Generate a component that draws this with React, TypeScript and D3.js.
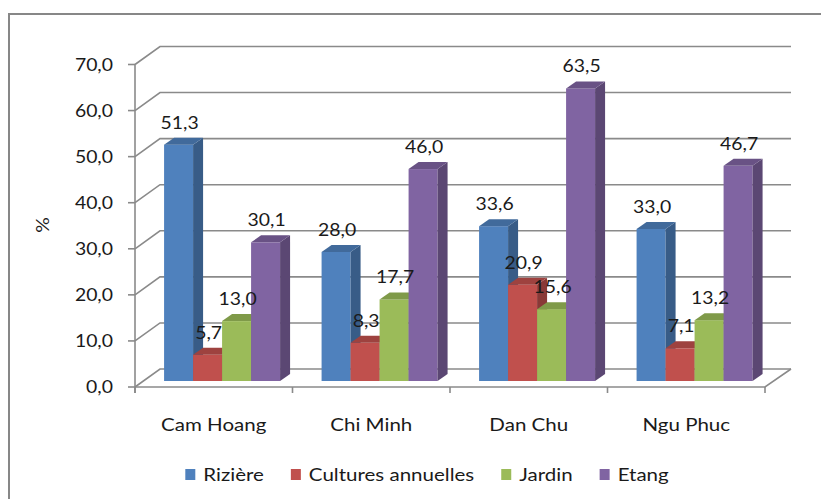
import React, { useEffect, useRef } from "react";
import * as d3 from "d3";

const categories = ["Cam Hoang", "Chi Minh", "Dan Chu", "Ngu Phuc"];
const seriesNames = ["Rizière", "Cultures annuelles", "Jardin", "Etang"];
const riziere = [51.3, 28.0, 33.6, 33.0];
const cultures = [5.7, 8.3, 20.9, 7.1];
const jardin = [13.0, 17.7, 15.6, 13.2];
const etang = [30.1, 46.0, 63.5, 46.7];
const yTicks = [0, 10, 20, 30, 40, 50, 60, 70];
const seriesColors = ["#4F81BD", "#C0504D", "#9BBB59", "#8064A2"];

const W = 821;
const H = 499;
const FONT = "Lato, 'Open Sans', sans-serif";
const SX = 1.14; // horizontal stretch of all text

export default function App() {
  const ref = useRef<SVGSVGElement | null>(null);

  useEffect(() => {
    const svg = d3.select(ref.current);
    svg.selectAll("*").remove();

    const series = [riziere, cultures, jardin, etang];

    // plot geometry
    const x0 = 135;
    const x1 = 765;
    const floorY = 387;
    const depthX = 25;
    const depthY = -18;
    const barDepthPos = 1 / 3; // where the bar fronts sit inside the floor depth
    const barW = 29;
    const barDX = 10;
    const barDY = -7;
    const gridColor = "#8a8a8a";

    const y = d3.scaleLinear().domain([0, 70]).range([floorY, 64.5]);
    const xBand = d3.scaleBand<string>().domain(categories).range([x0, x1]);
    const inner = d3
      .scaleBand<string>()
      .domain(seriesNames)
      .range([0, barW * seriesNames.length]);

    const fmt = (v: number) => d3.format(".1f")(v).replace(".", ",");

    const txt = (
      g: d3.Selection<any, any, any, any>,
      x: number,
      yy: number,
      s: string,
      size: number,
      anchor: string
    ) =>
      g
        .append("text")
        .attr("transform", `translate(${x},${yy}) scale(${SX},1)`)
        .attr("text-anchor", anchor)
        .attr("font-family", FONT)
        .attr("font-size", size)
        .attr("fill", "#1a1a1a")
        .text(s);

    // outer frame
    svg
      .append("rect")
      .attr("x", 9)
      .attr("y", 14)
      .attr("width", 900)
      .attr("height", 600)
      .attr("fill", "#fff")
      .attr("stroke", "#878787")
      .attr("stroke-width", 2);

    const grid = svg.append("g").attr("fill", "none").attr("stroke", gridColor).attr("stroke-width", 1.6);

    // back wall gridlines with side-wall diagonals
    yTicks.forEach((t) => {
      const yf = y(t);
      grid
        .append("path")
        .attr("d", `M${x0},${yf}L${x0 + depthX},${yf + depthY}L${x1 + depthX + 1},${yf + depthY}`);
      grid.append("line").attr("x1", x0 - 7).attr("x2", x0).attr("y1", yf).attr("y2", yf);
    });

    // floor front edge, right edge, axis line and category ticks
    grid.append("path").attr("d", `M${x0},${floorY}L${x1},${floorY}L${x1 + depthX + 1},${floorY + depthY}`);
    grid.append("line").attr("x1", x0).attr("x2", x0).attr("y1", y(70)).attr("y2", floorY + 6);
    [...categories.map((c) => xBand(c) as number), x1].forEach((tx) => {
      grid.append("line").attr("x1", tx).attr("x2", tx).attr("y1", floorY).attr("y2", floorY + 6);
    });

    // bars
    const bars = svg.append("g");
    const baseY = floorY + depthY * barDepthPos;
    const shiftX = depthX * barDepthPos;
    const labels: { x: number; y: number; v: number }[] = [];

    categories.forEach((c, ci) => {
      const gx = (xBand(c) as number) + xBand.bandwidth() / 2 + shiftX - inner.range()[1] / 2;
      seriesNames.forEach((s, si) => {
        const v = series[si][ci];
        const bx = gx + (inner(s) as number);
        const top = baseY - (floorY - y(v));
        const col = d3.color(seriesColors[si])!;
        // front face
        bars
          .append("rect")
          .attr("x", bx)
          .attr("y", top)
          .attr("width", barW)
          .attr("height", baseY - top)
          .attr("fill", seriesColors[si]);
        // side face
        bars
          .append("path")
          .attr(
            "d",
            `M${bx + barW},${top}L${bx + barW + barDX},${top + barDY}L${bx + barW + barDX},${baseY + barDY}L${bx + barW},${baseY}Z`
          )
          .attr("fill", col.darker(0.95).formatHex());
        // top face
        bars
          .append("path")
          .attr(
            "d",
            `M${bx},${top}L${bx + barDX},${top + barDY}L${bx + barW + barDX},${top + barDY}L${bx + barW},${top}Z`
          )
          .attr("fill", col.darker(0.55).formatHex());
        labels.push({ x: bx + barW / 2 + 1, y: top - 16, v });
      });
    });

    // value labels
    const lab = svg.append("g");
    labels.forEach((l) => txt(lab, l.x, l.y, fmt(l.v), 17, "middle"));

    // y tick labels
    const ax = svg.append("g");
    yTicks.forEach((t) => txt(ax, 113, y(t) + 6, fmt(t), 17, "end"));

    // y axis title
    ax.append("text")
      .attr("transform", `translate(49,225) rotate(-90) scale(${SX},1)`)
      .attr("text-anchor", "middle")
      .attr("font-family", FONT)
      .attr("font-size", 17)
      .attr("fill", "#1a1a1a")
      .text("%");

    // category labels
    categories.forEach((c) =>
      txt(ax, (xBand(c) as number) + xBand.bandwidth() / 2 + 0, 431, c, 18, "middle")
    );

    // legend
    const leg = svg.append("g");
    const items = seriesNames.map((s, i) => {
      const g = leg.append("g");
      g.append("rect").attr("x", 0).attr("y", -12).attr("width", 10).attr("height", 11).attr("fill", seriesColors[i]);
      const t = txt(g, 18, 0, s, 18, "start");
      const w = (t.node() as SVGTextElement).getComputedTextLength() * SX;
      return { g, w: 18 + w };
    });
    const gap = 27;
    const total = d3.sum(items, (d) => d.w) + gap * (items.length - 1);
    let cx = 427 - total / 2;
    items.forEach((it) => {
      it.g.attr("transform", `translate(${cx},481)`);
      cx += it.w + gap;
    });
  }, []);

  return (
    <svg
      ref={ref}
      width={W}
      height={H}
      style={{ position: "absolute", left: 0, top: 0, display: "block", background: "#fff" }}
    />
  );
}
